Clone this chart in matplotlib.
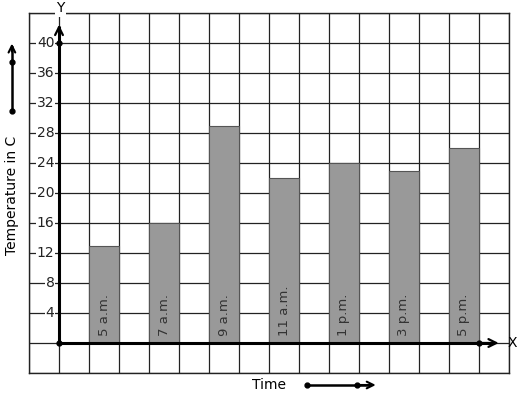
import matplotlib.pyplot as plt

# data
times = ['5 a.m.', '7 a.m.', '9 a.m.', '11 a.m.', '1 p.m.', '3 p.m.', '5 p.m.']
temps = [13, 16, 29, 22, 24, 23, 26]
y_ticks = [4, 8, 12, 16, 20, 24, 28, 32, 36, 40]

W, H = 517, 399
fig = plt.figure(figsize=(W / 100, H / 100), dpi=100)
# grid box spans 29..509 px horizontally, 13..373 px vertically
ax = fig.add_axes([29 / W, (H - 373) / H, 480 / W, 360 / H])
ax.set_xlim(-1, 15)
ax.set_ylim(-4, 44)
ax.set_xticks([])
ax.set_yticks([])
for s in ax.spines.values():
    s.set_linewidth(1.0)
    s.set_color('#222222')

# grid cells
for gx in range(-1, 16):
    ax.axvline(gx, color='#222222', lw=0.9, zorder=1)
for gy in range(-4, 45, 4):
    ax.axhline(gy, color='#222222', lw=0.9, zorder=1)

# bars
xs = [2 * i + 1.5 for i in range(len(times))]
ax.bar(xs, temps, width=1.0, color='#999999', edgecolor='#555555', lw=0.8, zorder=2)
for x, lab in zip(xs, times):
    ax.text(x, 0.9, lab, rotation=90, ha='center', va='bottom', fontsize=9.5,
            color='#333333', zorder=3)

# axes with arrows
ax.plot([0, 0], [0, 42.3], color='black', lw=2.2, zorder=4, solid_capstyle='butt')
ax.annotate('', xy=(0, 42.8), xytext=(0, 41.0),
            arrowprops=dict(arrowstyle='->', color='black', lw=1.6, mutation_scale=14), zorder=4)
ax.plot([0, 14.5], [0, 0], color='black', lw=2.2, zorder=4, solid_capstyle='butt')
ax.annotate('', xy=(14.75, 0), xytext=(14.0, 0),
            arrowprops=dict(arrowstyle='->', color='black', lw=1.6, mutation_scale=14), zorder=4)
ax.plot([0, 0, 14], [0, 40, 0], 'o', color='black', ms=3.5, zorder=5, ls='none')

# tick labels
for t in y_ticks:
    ax.text(-0.15, t, str(t), ha='right', va='center', fontsize=10, color='#222222',
            bbox=dict(boxstyle='square,pad=0.05', fc='white', ec='none'), zorder=3)

ax.text(0.05, 44.6, 'Y', ha='center', va='center', fontsize=10,
        bbox=dict(boxstyle='square,pad=0.1', fc='white', ec='none'), clip_on=False, zorder=6)
ax.text(14.95, 0, 'X', ha='left', va='center', fontsize=10, clip_on=False, zorder=6)

# axis titles with arrows
ax.text(-1.57, 19.7, 'Temperature in C', rotation=90, ha='center', va='center',
        fontsize=10, clip_on=False)
ax.plot([-1.57, -1.57], [30.9, 39.5], color='black', lw=1.8, clip_on=False)
ax.annotate('', xy=(-1.57, 40.3), xytext=(-1.57, 38.5),
            arrowprops=dict(arrowstyle='->', color='black', lw=1.5, mutation_scale=12),
            annotation_clip=False)
ax.plot([-1.57, -1.57], [30.9, 37.5], 'o', color='black', ms=3.5, clip_on=False)

ax.text(7.0, -5.6, 'Time', ha='center', va='center', fontsize=10, clip_on=False)
ax.plot([8.27, 10.3], [-5.6, -5.6], color='black', lw=1.8, clip_on=False)
ax.annotate('', xy=(10.65, -5.6), xytext=(9.9, -5.6),
            arrowprops=dict(arrowstyle='->', color='black', lw=1.5, mutation_scale=12),
            annotation_clip=False)
ax.plot([8.27, 9.93], [-5.6, -5.6], 'o', color='black', ms=3.5, clip_on=False)

fig.savefig('out.png', dpi=100)
